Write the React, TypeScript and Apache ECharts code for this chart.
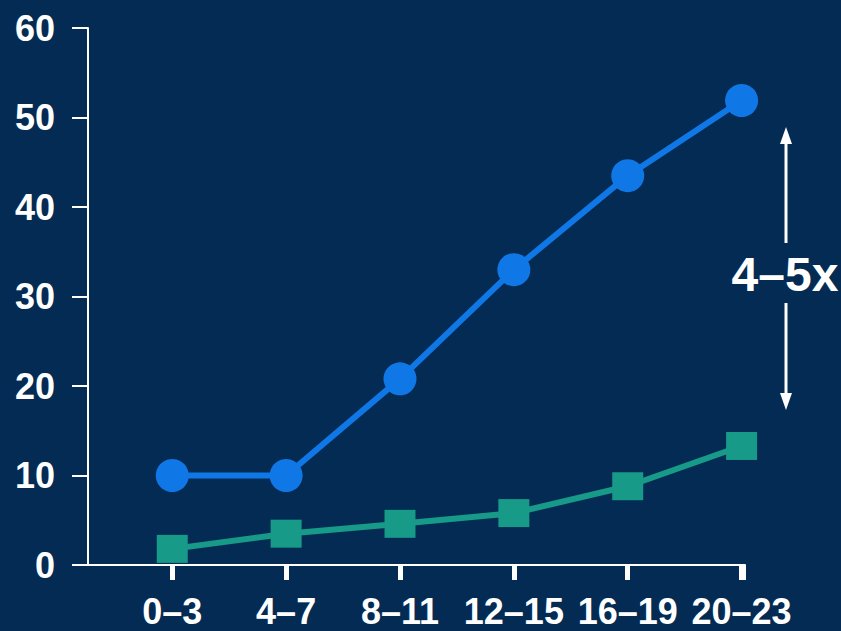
import React, { useEffect, useRef } from "react";
import * as echarts from "echarts";

const categories = ["0–3", "4–7", "8–11", "12–15", "16–19", "20–23"];
const blueValues = [10, 10, 20.8, 33.0, 43.5, 51.9];
const greenValues = [1.8, 3.5, 4.6, 5.8, 8.8, 13.3];
const yTicks = [0, 10, 20, 30, 40, 50, 60];
const annotation = "4–5x";

const FONT = '"Liberation Sans", Arial, sans-serif';
const BG = "#032b53";
const BLUE = "#0f78e6";
const GREEN = "#179a88";

export default function App() {
  const ref = useRef<HTMLDivElement>(null);
  useEffect(() => {
    if (!ref.current) return;
    const chart = echarts.init(ref.current, null, { renderer: "svg" });
    const idx = categories.map((_, i) => i);
    const xMin = -0.74;
    const xMax = 5.03;
    chart.setOption({
      animation: false,
      backgroundColor: BG,
      grid: { left: 88, right: 96, top: 28, bottom: 66, containLabel: false, outerBoundsMode: "none" },
      xAxis: [
        {
          type: "value",
          min: xMin,
          max: xMax,
          axisLine: { show: true, onZero: false, lineStyle: { color: "#ffffff", width: 2 } },
          axisTick: { show: true, customValues: idx, length: 15, lineStyle: { color: "#ffffff", width: 5 } },
          axisLabel: {
            show: true,
            customValues: idx,
            hideOverlap: false,
            formatter: (v: number) => categories[Math.round(v)] ?? "",
            color: "#ffffff",
            fontFamily: FONT,
            fontWeight: "bold",
            fontSize: 36,
            lineHeight: 36,
            margin: 28,
          },
          splitLine: { show: false },
        },
        {
          type: "value",
          position: "bottom",
          min: xMin,
          max: xMax,
          axisLine: { show: false },
          axisTick: { show: true, customValues: [xMax], length: 15, lineStyle: { color: "#ffffff", width: 2 } },
          axisLabel: { show: false },
          splitLine: { show: false },
        },
      ],
      yAxis: {
        type: "value",
        min: 0,
        max: 60,
        interval: 10,
        axisLine: { show: true, onZero: false, lineStyle: { color: "#ffffff", width: 2 } },
        axisTick: { show: true, length: 16, lineStyle: { color: "#ffffff", width: 2 } },
        axisLabel: {
          color: "#ffffff",
          fontFamily: FONT,
          fontWeight: "bold",
          fontSize: 36,
          margin: 33,
          formatter: (v: number) => (yTicks.includes(v) ? String(v) : ""),
        },
        splitLine: { show: false },
      },
      series: [
        {
          type: "line",
          xAxisIndex: 0,
          data: greenValues.map((v, i) => [i, v]),
          symbol: "rect",
          symbolSize: [31, 28],
          lineStyle: { color: GREEN, width: 6 },
          itemStyle: { color: GREEN },
          z: 2,
        },
        {
          type: "line",
          xAxisIndex: 0,
          data: blueValues.map((v, i) => [i, v]),
          symbol: "circle",
          symbolSize: 33,
          lineStyle: { color: BLUE, width: 6 },
          itemStyle: { color: BLUE },
          z: 3,
        },
      ],
      graphic: [
        { type: "line", shape: { x1: 786, y1: 140, x2: 786, y2: 243 }, style: { stroke: "#ffffff", lineWidth: 3 } },
        { type: "polygon", shape: { points: [[786, 127], [780, 144], [792, 144]] }, style: { fill: "#ffffff" } },
        { type: "line", shape: { x1: 786, y1: 303, x2: 786, y2: 398 }, style: { stroke: "#ffffff", lineWidth: 3 } },
        { type: "polygon", shape: { points: [[786, 410], [780, 393], [792, 393]] }, style: { fill: "#ffffff" } },
        {
          type: "text",
          x: 785,
          y: 274,
          style: {
            text: annotation,
            fill: "#ffffff",
            font: `bold 48px ${FONT}`,
            align: "center",
            verticalAlign: "middle",
          },
        },
      ],
    });
    return () => chart.dispose();
  }, []);
  return (
    <div
      ref={ref}
      style={{ position: "fixed", left: 0, top: 0, width: 841, height: 631 }}
    />
  );
}
